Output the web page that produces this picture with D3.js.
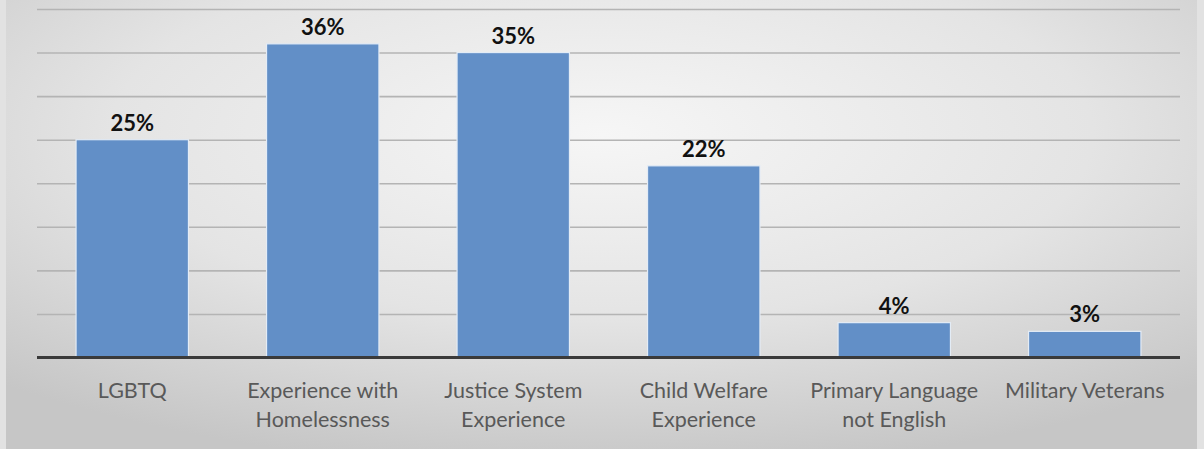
<!DOCTYPE html>
<html>
<head>
<meta charset="utf-8">
<script src="https://cdn.jsdelivr.net/npm/d3@7"></script>
<style>
  html, body { margin: 0; padding: 0; background: #e4e4e4; }
  svg { display: block; }
</style>
</head>
<body>
<svg id="chart" width="1204" height="449"></svg>
<script>
// Share of participants by characteristic (%)
const categories = [
  ["LGBTQ"],
  ["Experience with", "Homelessness"],
  ["Justice System", "Experience"],
  ["Child Welfare", "Experience"],
  ["Primary Language", "not English"],
  ["Military Veterans"]
];
const values = [25, 36, 35, 22, 4, 3];
const gridTicks = [0, 5, 10, 15, 20, 25, 30, 35, 40];

const W = 1204, H = 449;
const svg = d3.select("#chart");

// radial grey backdrop
const defs = svg.append("defs");
const grad = defs.append("radialGradient")
  .attr("id", "bg").attr("cx", "50%").attr("cy", "30%").attr("r", "75%")
  .attr("gradientUnits", "objectBoundingBox");
grad.append("stop").attr("offset", "0%").attr("stop-color", "#f6f6f6");
grad.append("stop").attr("offset", "55%").attr("stop-color", "#e4e4e4");
grad.append("stop").attr("offset", "100%").attr("stop-color", "#c6c6c6");

svg.append("rect").attr("x", 0).attr("y", 0).attr("width", W).attr("height", H).attr("fill", "#e2e2e2");
svg.append("rect").attr("x", 6).attr("y", 0).attr("width", 1191).attr("height", H).attr("fill", "url(#bg)");

const margin = { left: 37, right: 24, top: 9, bottom: 91 };
const x = d3.scaleBand()
  .domain(categories.map((c, i) => i))
  .range([margin.left, W - margin.right])
  .paddingInner(0.41).paddingOuter(0.205);
const y = d3.scaleLinear().domain([0, 40]).range([H - margin.bottom - 0.5, margin.top]);

// horizontal gridlines
svg.append("g")
  .attr("transform", `translate(${margin.left},0)`)
  .call(d3.axisLeft(y).tickValues(gridTicks.slice(1)).tickSize(-(W - margin.left - margin.right)).tickFormat(""))
  .call(g => g.select(".domain").remove())
  .call(g => g.selectAll("line").attr("stroke", "#b4b4b4").attr("stroke-width", 1.6));

// bars
svg.append("g").selectAll("rect")
  .data(values)
  .join("rect")
  .attr("x", (d, i) => x(i))
  .attr("y", d => y(d))
  .attr("width", x.bandwidth())
  .attr("height", d => y(0) - y(d))
  .attr("fill", "#628fc7")
  .attr("stroke", "#e3ecf6")
  .attr("stroke-width", 1.2);

// value labels
svg.append("g").selectAll("text")
  .data(values)
  .join("text")
  .attr("x", (d, i) => x(i) + x.bandwidth() / 2)
  .attr("y", d => y(d) - 9)
  .attr("text-anchor", "middle")
  .attr("font-family", "Lato, 'Liberation Sans', sans-serif")
  .attr("font-weight", "bold")
  .attr("font-size", 22)
  .attr("fill", "#111")
  .text(d => d + "%");

// baseline axis with category labels
const xAxis = svg.append("g")
  .attr("transform", `translate(0,${y(0)})`)
  .call(d3.axisBottom(x).tickSize(0).tickFormat(""));
xAxis.select(".domain").attr("stroke", "#3a3a3a").attr("stroke-width", 3)
  .attr("d", `M${margin.left},0H${W - margin.right}`);

const labels = svg.append("g").selectAll("text")
  .data(categories)
  .join("text")
  .attr("x", (d, i) => x(i) + x.bandwidth() / 2)
  .attr("y", 398)
  .attr("text-anchor", "middle")
  .attr("font-family", "Lato, 'Liberation Sans', sans-serif")
  .attr("font-size", 21.5)
  .attr("fill", "#595959");
labels.selectAll("tspan")
  .data(d => d)
  .join("tspan")
  .attr("x", function () { return d3.select(this.parentNode).attr("x"); })
  .attr("dy", (d, i) => i === 0 ? 0 : 29)
  .text(d => d);
</script>
</body>
</html>
